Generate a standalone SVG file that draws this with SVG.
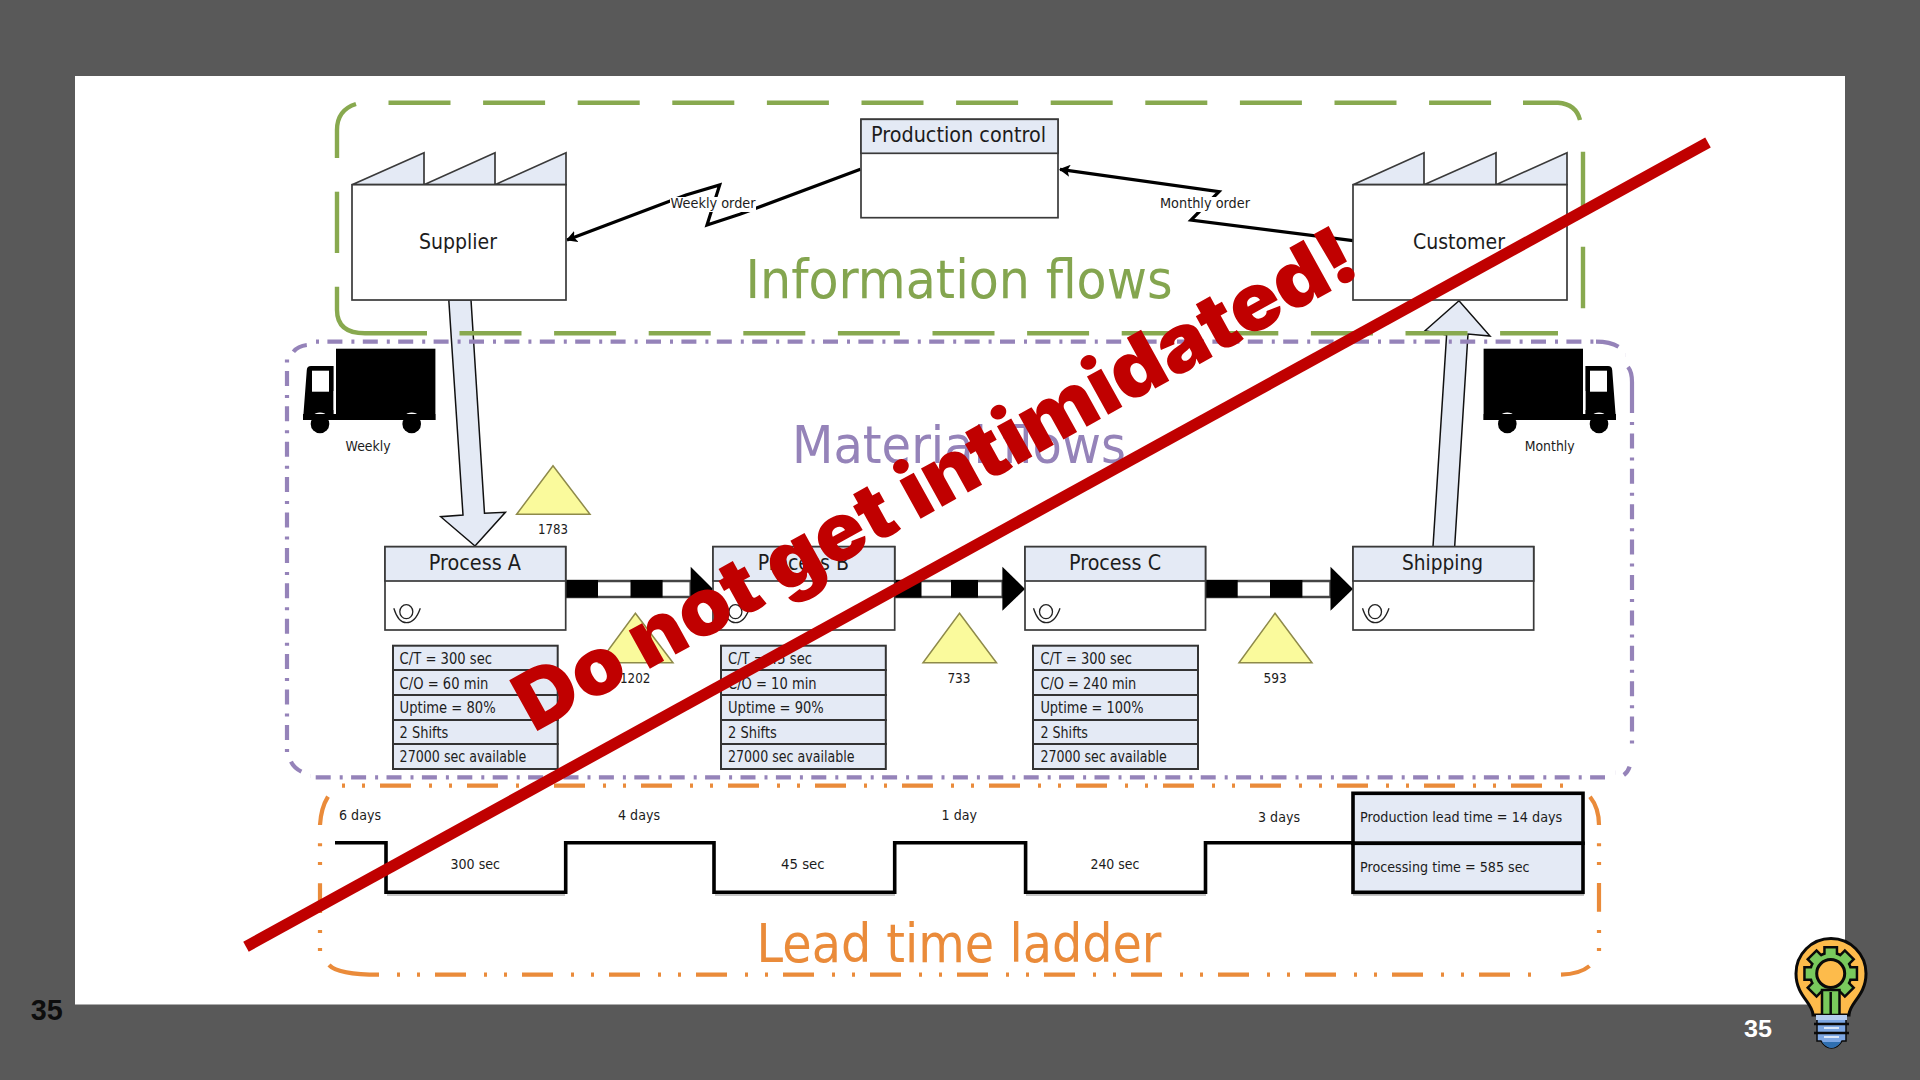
<svg xmlns="http://www.w3.org/2000/svg" xmlns:xlink="http://www.w3.org/1999/xlink" width="1920" height="1080" viewBox="0 0 1920 1080">
<style>
text{font-family:"DejaVu Sans","Liberation Sans",sans-serif;fill:#1c1c1c}
.box{fill:#fff;stroke:#3a3a3a;stroke-width:1.7}
.hd{fill:#e4eaf5;stroke:#3a3a3a;stroke-width:1.7}
.row{fill:#e4eaf5;stroke:#333;stroke-width:2}
.f21{font-size:21px}.f15{font-size:15px}.f14{font-size:14px}
.big{font-size:53px}
.gr{fill:none;stroke:#88a94f;stroke-width:4.4}
.pu{fill:none;stroke:#9583b9;stroke-width:4.2}
.or{fill:none;stroke:#ea8b3a;stroke-width:4.2}
.gd{stroke-dasharray:62 32.6}
.pd{stroke-dasharray:15 9 3 8.4;stroke-dashoffset:24}
.od{stroke-dasharray:31 18 3 17 3 15;stroke-dashoffset:48}
.tri{fill:#fafa9c;stroke:#8e8a4a;stroke-width:1.5}
.blk{fill:#e4eaf5;stroke:#111;stroke-width:1.5}
.lad{fill:none;stroke:#000;stroke-width:3.6}
.sh{fill:none;stroke:#c4c4c4;stroke-width:2}
.bar{fill:#fff;stroke:#444;stroke-width:2.5}
.tr{fill:#000}
</style>
<defs>
<g id="op"><ellipse cx="0" cy="0" rx="6.5" ry="7" fill="#fff" stroke="#222" stroke-width="1.3"/><path d="M-12.5 -3.5Q-8 11 0 11Q9 11 14 -3.5" fill="none" stroke="#222" stroke-width="1.3"/></g>
<g id="truck"><rect class="tr" x="336" y="348.7" width="99.4" height="71.3"/><path class="tr" d="M303 420L306.8 370Q307 366 311 366H333.6V420Z"/><rect x="312" y="370.7" width="17" height="21" fill="#fff"/><rect x="333.6" y="391" width="1.6" height="19" fill="#fff"/><circle cx="320" cy="423" r="10.6" fill="#fff"/><circle cx="411.7" cy="423" r="10.6" fill="#fff"/><circle class="tr" cx="320" cy="424" r="9.3"/><circle class="tr" cx="411.7" cy="424" r="9.3"/><rect class="tr" x="303" y="414" width="132.4" height="6"/></g>
<g id="gear"><circle r="19.5"/><rect x="-5" y="-25" width="10" height="8" transform="rotate(0)"/><rect x="-5" y="-25" width="10" height="8" transform="rotate(45)"/><rect x="-5" y="-25" width="10" height="8" transform="rotate(90)"/><rect x="-5" y="-25" width="10" height="8" transform="rotate(135)"/><rect x="-5" y="-25" width="10" height="8" transform="rotate(180)"/><rect x="-5" y="-25" width="10" height="8" transform="rotate(225)"/><rect x="-5" y="-25" width="10" height="8" transform="rotate(270)"/><rect x="-5" y="-25" width="10" height="8" transform="rotate(315)"/></g>
<marker id="ah" markerWidth="11" markerHeight="12" refX="10" refY="6" orient="auto" markerUnits="userSpaceOnUse"><path d="M0 0L11 6L0 12L2.5 6Z" fill="#000"/></marker>
</defs>
<rect width="1920" height="1080" fill="#595959"/>
<rect x="75" y="76" width="1770" height="928.5" fill="#fff"/>

<g id="connectors">
<path class="blk" d="M448.8 300H471L484.5 513.3L505.4 512.3L475 546L440.7 516.7L463 515Z"/>
<path class="blk" d="M1433 546.7L1454.6 547.7L1468 334L1490 336L1459 300.7L1425 330.7L1446.6 335Z"/>
<path fill="none" stroke="#000" stroke-width="3.2" marker-end="url(#ah)" d="M860.4 169.3L739.8 214.3L707 225L719.7 185L686 195L567 240"/>
<path fill="none" stroke="#000" stroke-width="3.2" marker-end="url(#ah)" d="M1353 240.7L1191 220L1219 191.7L1060 169.3"/>
<g id="push-ab"><rect class="bar" x="565.7" y="581" width="125" height="16"/><rect x="565.7" y="580" width="32.3" height="17.5"/><rect x="630.5" y="580" width="32.1" height="17.5"/><path d="M690.7 566.7L713 589L690.7 610.7Z"/></g>
<g id="push-bc"><rect class="bar" x="894.7" y="581" width="108" height="16"/><rect x="894.7" y="580" width="26.8" height="17.5"/><rect x="951" y="580" width="27" height="17.5"/><path d="M1002.4 566.7L1025 589L1002.4 610.7Z"/></g>
<g id="push-cs"><rect class="bar" x="1205.5" y="581" width="125" height="16"/><rect x="1205.5" y="580" width="32.2" height="17.5"/><rect x="1270" y="580" width="32.4" height="17.5"/><path d="M1330.5 566.7L1353 589L1330.5 610.7Z"/></g>
</g>

<g id="zone-information">
<path class="gr gd" style="stroke-dashoffset:0" d="M388.5 102.7H1523"/>
<path class="gr" d="M1523 102.7H1558Q1576 104 1580 120"/>
<path class="gr" d="M337 158V130Q337 110 356 104"/>
<path class="gr" d="M337 191.7V253"/>
<path class="gr" d="M337 286.7V310Q337 333.3 365 333.3H427"/>
<path class="gr gd" style="stroke-dashoffset:0" d="M459.5 333.3H1558"/>
<path class="gr" d="M1583 151.7V214M1583 246.7V308.3"/>
<text x="745.5" y="298.3" class="big" style="fill:#84a54f" textLength="427" lengthAdjust="spacingAndGlyphs">Information flows</text>
</g>

<g id="zone-material">
<path class="pu pd" d="M316 341.7H1596"/>
<path class="pu" d="M293.4 351.7Q298 346 306.8 345M1596 341.7Q1610 341.7 1618.5 346.7M1628 367Q1632 372 1632 382V413M291 761.7Q294 768 301.4 771.7M1629.6 766.7Q1628 772 1623.8 775"/>
<path class="pu pd" d="M287 359.5V754"/>
<path class="pu pd" d="M1632 422V750"/>
<path class="pu pd" style="stroke-dashoffset:0" d="M315.7 777.3H1605"/>
<path class="pu" stroke-dasharray="3 9" d="M1625 355h.1M1615 772.7h.1M310 776h.1"/>
<text x="792" y="462.7" class="big" style="font-size:52px;fill:#9583b9" textLength="334" lengthAdjust="spacingAndGlyphs">Material flows</text>
</g>

<g id="zone-lead">
<path class="or od" d="M341 785.7H1576"/>
<path class="or od" style="stroke-dashoffset:47" d="M395 974.7H1545"/>
<path class="or" d="M328 796.7Q321 808 320 825M320 883.3V913M320 843.3v3M320 862v3M320 930v3M320 948v3M329 965Q338 974.7 379 974.7M1590 796.7Q1599 808 1599 825M1599 883V911.7M1599 843.3v3M1599 862v3M1599 930v3M1599 948v3M1561 974.7Q1580 974 1589.5 966"/>
<text x="756.5" y="961.7" class="big" style="font-size:53.5px;fill:#ea8b3a" textLength="405" lengthAdjust="spacingAndGlyphs">Lead time ladder</text>
</g>

<g id="node-production-control">
<rect class="box" x="861" y="119.3" width="197" height="98.4"/><rect class="hd" x="861" y="119.3" width="197" height="34"/>
<text x="871" y="142.3" class="f21" textLength="175" lengthAdjust="spacingAndGlyphs">Production control</text>
</g>
<g id="label-weekly-order"><rect x="670" y="197" width="86" height="15" fill="#fff"/><text x="670.6" y="208.3" class="f14" textLength="85" lengthAdjust="spacingAndGlyphs">Weekly order</text></g>
<g id="label-monthly-order"><rect x="1160" y="197" width="90" height="15" fill="#fff"/><text x="1160" y="208.3" class="f14" textLength="90" lengthAdjust="spacingAndGlyphs">Monthly order</text></g>

<g id="node-supplier">
<path class="hd" d="M352 184.7L424 152.7V184.7L495 152.7V184.7L566 152.7V184.7Z"/>
<rect class="box" x="352" y="184.7" width="214" height="115.3"/>
<text x="419" y="249" class="f21" textLength="78" lengthAdjust="spacingAndGlyphs">Supplier</text>
</g>
<g id="node-customer">
<path class="hd" d="M1353 184.7L1424 152.7V184.7L1496 152.7V184.7L1567 152.7V184.7Z"/>
<rect class="box" x="1353" y="184.7" width="214" height="115.3"/>
<text x="1413" y="249" class="f21" textLength="92" lengthAdjust="spacingAndGlyphs">Customer</text>
</g>

<g id="node-truck-weekly"><use href="#truck"/><text x="345.6" y="451" class="f14" textLength="45" lengthAdjust="spacingAndGlyphs">Weekly</text></g>
<g id="node-truck-monthly"><use href="#truck" transform="translate(1919 0) scale(-1 1)"/><text x="1524.7" y="451" class="f14" textLength="50" lengthAdjust="spacingAndGlyphs">Monthly</text></g>

<g id="inv-1783"><path class="tri" d="M553 465.7L590 514.3H516.6Z"/><text x="538" y="534.3" class="f14" textLength="30" lengthAdjust="spacingAndGlyphs">1783</text></g>
<g id="inv-1202"><path class="tri" d="M635.4 613.3L673 662.7H599Z"/><text x="620" y="682.7" class="f14" textLength="30.5" lengthAdjust="spacingAndGlyphs">1202</text></g>
<g id="inv-733"><path class="tri" d="M959.5 613.3L996.5 662.7H923Z"/><text x="947.4" y="682.7" class="f14" textLength="23.2" lengthAdjust="spacingAndGlyphs">733</text></g>
<g id="inv-593"><path class="tri" d="M1275 613.3L1312 662.7H1239Z"/><text x="1263.6" y="682.7" class="f14" textLength="23.2" lengthAdjust="spacingAndGlyphs">593</text></g>

<g id="node-process-a">
<rect class="box" x="385" y="546.7" width="180.7" height="83.3"/><rect class="hd" x="385" y="546.7" width="180.7" height="34.3"/>
<text x="428.7" y="570" class="f21" textLength="92.3" lengthAdjust="spacingAndGlyphs">Process A</text>
<use href="#op" x="406.3" y="611.7"/>
</g>
<g id="node-process-b">
<rect class="box" x="713" y="546.7" width="181.7" height="83.3"/><rect class="hd" x="713" y="546.7" width="181.7" height="34.3"/>
<text x="757.7" y="570" class="f21" textLength="91.3" lengthAdjust="spacingAndGlyphs">Process B</text>
<use href="#op" x="735.4" y="611.7"/>
</g>
<g id="node-process-c">
<rect class="box" x="1025" y="546.7" width="180.5" height="83.3"/><rect class="hd" x="1025" y="546.7" width="180.5" height="34.3"/>
<text x="1069" y="570" class="f21" textLength="92" lengthAdjust="spacingAndGlyphs">Process C</text>
<use href="#op" x="1046" y="611.7"/>
</g>
<g id="node-shipping">
<rect class="box" x="1353" y="546.7" width="180.7" height="83.3"/><rect class="hd" x="1353" y="546.7" width="180.7" height="34.3"/>
<text x="1402" y="570" class="f21" textLength="81" lengthAdjust="spacingAndGlyphs">Shipping</text>
<use href="#op" x="1375" y="611.7"/>
</g>

<g id="data-a">
<rect class="row" x="393" y="645.7" width="164.7" height="24.3"/><rect class="row" x="393" y="670" width="164.7" height="25"/><rect class="row" x="393" y="695" width="164.7" height="25"/><rect class="row" x="393" y="720" width="164.7" height="24"/><rect class="row" x="393" y="744" width="164.7" height="25"/>
<text x="399.6" y="664.3" class="f15" textLength="92.4" lengthAdjust="spacingAndGlyphs">C/T = 300 sec</text>
<text x="399.6" y="688.7" class="f15" textLength="88.8" lengthAdjust="spacingAndGlyphs">C/O = 60 min</text>
<text x="399.6" y="713.3" class="f15" textLength="96" lengthAdjust="spacingAndGlyphs">Uptime = 80%</text>
<text x="399.6" y="738" class="f15" textLength="48.7" lengthAdjust="spacingAndGlyphs">2 Shifts</text>
<text x="399.6" y="762.3" class="f15" textLength="126.8" lengthAdjust="spacingAndGlyphs">27000 sec available</text>
</g>
<g id="data-b">
<rect class="row" x="721" y="645.7" width="164.8" height="24.3"/><rect class="row" x="721" y="670" width="164.8" height="25"/><rect class="row" x="721" y="695" width="164.8" height="25"/><rect class="row" x="721" y="720" width="164.8" height="24"/><rect class="row" x="721" y="744" width="164.8" height="25"/>
<text x="728" y="664.3" class="f15" textLength="84" lengthAdjust="spacingAndGlyphs">C/T = 45 sec</text>
<text x="728" y="688.7" class="f15" textLength="88.6" lengthAdjust="spacingAndGlyphs">C/O = 10 min</text>
<text x="728" y="713.3" class="f15" textLength="95.8" lengthAdjust="spacingAndGlyphs">Uptime = 90%</text>
<text x="728" y="738" class="f15" textLength="48.9" lengthAdjust="spacingAndGlyphs">2 Shifts</text>
<text x="728" y="762.3" class="f15" textLength="126.5" lengthAdjust="spacingAndGlyphs">27000 sec available</text>
</g>
<g id="data-c">
<rect class="row" x="1033" y="645.7" width="165" height="24.3"/><rect class="row" x="1033" y="670" width="165" height="25"/><rect class="row" x="1033" y="695" width="165" height="25"/><rect class="row" x="1033" y="720" width="165" height="24"/><rect class="row" x="1033" y="744" width="165" height="25"/>
<text x="1040.4" y="664.3" class="f15" textLength="91.5" lengthAdjust="spacingAndGlyphs">C/T = 300 sec</text>
<text x="1040.4" y="688.7" class="f15" textLength="95.9" lengthAdjust="spacingAndGlyphs">C/O = 240 min</text>
<text x="1040.4" y="713.3" class="f15" textLength="103.1" lengthAdjust="spacingAndGlyphs">Uptime = 100%</text>
<text x="1040.4" y="738" class="f15" textLength="47.6" lengthAdjust="spacingAndGlyphs">2 Shifts</text>
<text x="1040.4" y="762.3" class="f15" textLength="126.3" lengthAdjust="spacingAndGlyphs">27000 sec available</text>
</g>

<g id="ladder">
<path class="sh" d="M387 895H565M715 895H895M1026 895H1206M1353 895H1584"/>
<path class="lad" d="M335 842.7H386V892.3H565.7V842.7H714V892.3H894.7V842.7H1025.6V892.3H1205.5V842.7H1353"/>
<text x="339" y="819.7" class="f14" textLength="42" lengthAdjust="spacingAndGlyphs">6 days</text>
<text x="618" y="819.7" class="f14" textLength="42" lengthAdjust="spacingAndGlyphs">4 days</text>
<text x="941.6" y="819.7" class="f14" textLength="35.4" lengthAdjust="spacingAndGlyphs">1 day</text>
<text x="1258" y="821.7" class="f14" textLength="42" lengthAdjust="spacingAndGlyphs">3 days</text>
<text x="450.5" y="869" class="f14" textLength="49.5" lengthAdjust="spacingAndGlyphs">300 sec</text>
<text x="781" y="869" class="f14" textLength="43.6" lengthAdjust="spacingAndGlyphs">45 sec</text>
<text x="1090.4" y="869" class="f14" textLength="49.1" lengthAdjust="spacingAndGlyphs">240 sec</text>
</g>
<g id="node-summary">
<rect x="1353" y="793.3" width="230" height="50" fill="#e4eaf5" stroke="#000" stroke-width="3.6"/>
<rect x="1353" y="843.3" width="230" height="49" fill="#e4eaf5" stroke="#000" stroke-width="3.6"/>
<text x="1360" y="821.7" class="f14" textLength="202.3" lengthAdjust="spacingAndGlyphs">Production lead time = 14 days</text>
<text x="1360" y="871.5" class="f14" textLength="169.6" lengthAdjust="spacingAndGlyphs">Processing time = 585 sec</text>
</g>

<g id="overlay">
<path d="M246 946.7L1708 142.5" stroke="#c00000" stroke-width="11.5" fill="none"/>
<text transform="translate(534 733) rotate(-29)" x="0" y="0" font-size="80" font-weight="900" style="font-family:Inter,Lato,sans-serif;fill:#c00000" textLength="948" lengthAdjust="spacingAndGlyphs">Do not get intimidated!</text>
</g>

<g id="page-numbers">
<text x="30.7" y="1020" font-size="29" font-weight="700" style="font-family:'Liberation Sans',sans-serif;fill:#0d0d0d" textLength="32" lengthAdjust="spacingAndGlyphs">35</text>
<text x="1744" y="1037" font-size="23" font-weight="700" style="font-family:'Liberation Sans',sans-serif;fill:#fff" textLength="28" lengthAdjust="spacingAndGlyphs">35</text>
</g>

<g id="bulb">
<path d="M1813 1015C1813 1003 1796 996 1796 973.5A35 35 0 0 1 1866 973.5C1866 996 1849 1003 1849 1015Z" fill="#fdbb4b" stroke="#0a0a0a" stroke-width="3"/>
<g transform="translate(1830.7 973.5)"><use href="#gear" fill="#0a0a0a" stroke="#0a0a0a" stroke-width="5"/><use href="#gear" fill="#79c95c"/></g>
<path d="M1822 990H1839.5V1015H1822Z" fill="#79c95c" stroke="#0a0a0a" stroke-width="2.5"/>
<path d="M1830.7 992V1015" stroke="#0a0a0a" stroke-width="2.5"/>
<circle cx="1830.7" cy="973.5" r="14" fill="#fdbb4b" stroke="#0a0a0a" stroke-width="3"/>
<path d="M1817 1015H1846V1041H1842Q1838 1048 1831.5 1048Q1825 1048 1821 1041H1817Z" fill="#7da7e3" stroke="#0a0a0a" stroke-width="1.5"/>
<rect x="1816" y="1015" width="31" height="5" fill="#b6cdf0"/>
<path d="M1814 1024H1849M1814 1033H1849" stroke="#0a0a0a" stroke-width="2.5"/>
<path d="M1824 1028H1839M1824 1037H1839" stroke="#dbe8fa" stroke-width="1.8"/>
<path d="M1822 1042H1841Q1836 1048 1831.5 1048Q1827 1048 1822 1042Z" fill="#2f6fb0"/>
</g>
</svg>
